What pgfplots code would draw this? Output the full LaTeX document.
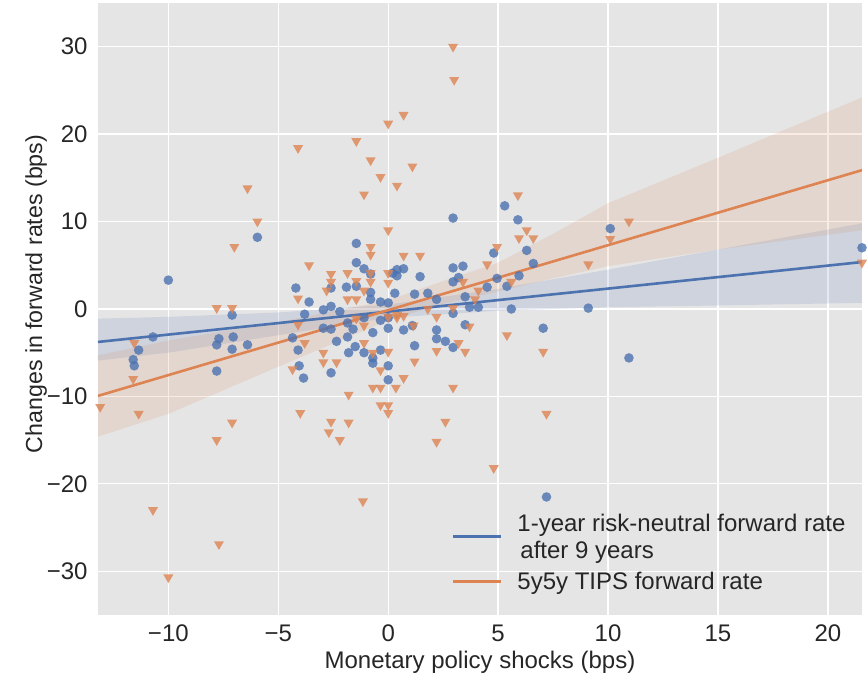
\documentclass[border=0pt]{standalone}
\usepackage{pgfplots}
\pgfplotsset{compat=1.18}
\usepgfplotslibrary{fillbetween}
\usepackage{fontspec}
\setmainfont{Liberation Sans}

\definecolor{sblue}{HTML}{4C72B0}
\definecolor{sorange}{HTML}{DD8452}
\definecolor{bggray}{HTML}{E5E5E5}
\definecolor{txt}{HTML}{262626}

% legend handle lowered to sit between the two text lines of its entry
\pgfplotsset{shiftedline/.style={legend image code/.code={%
  \draw[##1, line width=2.6pt] (0pt,-12.5pt) -- (48pt,-12.5pt);}}}
% legend handle with extra room above it, to open up the space before its row
\pgfplotsset{spacedline/.style={legend image code/.code={%
  \draw[##1, line width=2.6pt] (0pt,0pt) -- (48pt,0pt);
  \path[draw=none, fill=none] (0pt,0pt) rectangle (0pt,17pt);}}}

\begin{document}
\begin{tikzpicture}
\begin{axis}[
  name=ax,
  scale only axis,
  width=764pt, height=612pt,
  xmin=-13.2, xmax=21.55,
  ymin=-35, ymax=35,
  axis background/.style={fill=bggray},
  axis line style={draw=none},
  tick style={draw=none},
  grid=major,
  major grid style={white, line width=1.3pt},
  xtick={-10,-5,0,5,10,15,20},
  xticklabels={−10,−5,0,5,10,15,20},
  ytick={-30,-20,-10,0,10,20,30},
  yticklabels={−30,−20,−10,0,10,20,30},
  ticklabel style={font=\fontsize{24}{28}\selectfont, text=txt},
  xticklabel style={yshift=-6pt},
  yticklabel style={xshift=-7pt},
  xlabel={Monetary policy shocks (bps)},
  ylabel={Changes in forward rates (bps)},
  xlabel style={font=\fontsize{24}{28}\selectfont, text=txt, yshift=-3pt},
  ylabel style={font=\fontsize{23.2}{28}\selectfont, text=txt, yshift=-7pt, xshift=15pt},
  legend cell align=left,
  legend style={at={(axis cs:2.75,-23.0)}, anchor=north west, draw=none, fill=none,
    font=\fontsize{24}{28}\selectfont, text=txt, row sep=2pt, column sep=13pt,
    nodes={inner sep=2pt}},
  legend image code/.code={\draw[#1, line width=2.6pt] (0pt,0pt) -- (48pt,0pt);},
]

% 1-year risk-neutral forward rate after 9 years
\addplot[only marks, forget plot, mark=*, mark size=4.8pt, color=sblue,
  mark options={draw opacity=0, fill=sblue, fill opacity=0.8}] coordinates {
(-13.3,10.1) (-10.0,3.3) (-5.95,8.2) (-7.1,-0.7) (-4.2,2.4) (-3.8,-0.6)
(-3.6,0.8) (-2.95,-0.1) (-2.6,0.3) (-2.6,2.4) (-2.2,-0.3) (-1.9,2.5)
(-1.45,7.5) (-1.45,5.3) (-1.1,4.6) (-0.8,4.0) (-0.8,1.9) (-0.8,1.1)
(-0.35,0.8) (0.0,0.7) (0.2,4.1) (0.3,1.8) (0.4,4.5) (0.7,4.6)
(0.4,3.8) (1.45,3.7) (1.2,1.7) (-1.45,2.6)
(2.95,10.4) (5.3,11.8) (5.9,10.2) (6.3,6.7) (6.6,5.2) (4.8,6.4)
(4.95,3.5) (5.95,3.8) (5.4,2.6) (4.5,2.5) (2.95,4.7) (3.4,4.9)
(3.2,3.6) (2.95,3.1) (1.8,1.8) (2.2,1.1) (3.5,1.4) (3.7,0.2)
(4.1,0.2) (5.6,0.0) (2.95,-0.5) (10.1,9.2) (9.1,0.1) (7.05,-2.2)
(21.55,7.0) (10.95,-5.6) (7.2,-21.5) (2.2,-2.4) (2.2,-3.4) (2.6,-3.7)
(2.95,-4.4) (3.5,-1.8) (1.2,-4.2) (0.7,-2.4) (1.1,-1.9) (0.0,-2.2)
(0.0,-6.5) (0.0,-8.1) (-0.35,-4.7)
(-2.95,-2.2) (-2.6,-2.3) (-2.35,-3.7) (-1.85,-3.2) (-1.8,-5.0) (-1.5,-4.3)
(-1.1,-5.0) (-1.6,-2.3) (-0.7,-2.7) (-0.7,-5.6) (-0.7,-6.2) (-4.1,-4.7)
(-4.05,-6.5) (-3.85,-7.9) (-2.6,-7.3) (-4.35,-3.3) (-0.35,-1.3) (0.0,-1.0)
(-1.1,-1.0) (-1.85,-1.6)
(-10.7,-3.2) (-11.35,-4.7) (-11.6,-5.8) (-11.55,-6.5) (-7.7,-3.4) (-7.8,-4.1)
(-7.05,-3.2) (-7.1,-4.6) (-6.4,-4.1) (-7.8,-7.1)
};

% confidence band and fit, series 1
\addplot[name path=bu, draw=none, forget plot] coordinates {
(-13.2,-1.1) (-10,-0.9) (-5,-0.4) (0,0.5) (5,2.3) (10,4.5) (15,6.8) (21.55,9.8)};
\addplot[name path=bl, draw=none, forget plot] coordinates {
(-13.2,-5.9) (-10,-5.0) (-5,-3.0) (0,-1.0) (5,-0.2) (10,0.2) (15,0.4) (21.55,0.7)};
\addplot[fill=sblue, fill opacity=0.15, draw=none, forget plot] fill between[of=bu and bl];
\addplot[sblue, line width=2.6pt, shiftedline]
  coordinates {(-13.2,-3.77) (21.55,5.37)};
\addlegendentry{1-year risk-neutral forward rate}
\addlegendimage{empty legend}
\addlegendentry{\hspace{3pt}after 9 years}

% 5y5y TIPS forward rate
\addplot[only marks, forget plot, mark=triangle*, mark size=5.8pt, color=sorange,
  mark options={rotate=180, draw opacity=0, fill=sorange, fill opacity=0.8}] coordinates {
(0,21.2) (-4.1,18.4) (-1.45,19.2) (-0.8,17.0) (-0.35,15.1) (-1.1,13.1)
(0.4,14.1) (-6.4,13.8) (-5.95,10.0) (-7.0,7.1) (-3.6,5.0) (0,9.0)
(-0.8,7.1) (-0.8,6.2) (-2.6,4.0) (-2.6,3.1) (-1.85,4.1) (-1.45,3.2)
(-2.8,2.1) (-1.85,1.1) (-1.45,1.1) (-1.1,2.1) (-0.8,4.1) (-0.8,3.1)
(0,4.1) (0,3.0) (-4.1,1.2) (-7.8,0.1) (-7.1,0.1) (-4.1,-1.8)
(0.7,6.1) (1.45,6.1) (2.95,30.0) (3.0,26.2) (0.7,22.2) (1.1,16.3)
(5.9,13.0) (6.3,9.0) (5.95,8.1) (6.6,8.1) (4.95,7.1) (4.5,5.1)
(3.4,3.1) (4.1,2.1) (3.95,1.1) (5.6,3.1) (1.8,0.0) (2.95,0.1)
(10.95,10.0) (10.1,8.0) (9.1,5.1) (21.55,5.3) (5.4,-3.0) (7.05,-4.9)
(7.2,-12.0) (4.8,-18.2) (2.95,-9.0) (2.6,-12.9) (2.2,-15.2) (3.2,-3.9)
(3.5,-4.9) (2.2,-4.8) (2.2,-0.9) (1.2,-6.0) (0.7,-7.9) (0.35,-9.0)
(0,-4.9) (0,-11.0) (0,-11.9) (-0.35,-11.0) (1.15,-1.9) (3.7,-2.0)
(0.4,-0.7) (0.7,-0.8) (0,-0.9) (-0.35,-7.0) (-4.35,-6.9) (-2.95,-5.0)
(-2.95,-6.1) (-2.35,-6.1) (-1.1,-3.9) (-0.7,-5.0) (-0.7,-9.0) (-0.35,-9.0)
(-1.8,-9.8) (-4.0,-11.9) (-2.6,-12.9) (-1.8,-13.0) (-2.7,-14.1) (-2.2,-15.0)
(-3.8,-3.9) (-1.45,-1.1) (-1.1,-1.9) (0.4,-1.0) (-11.55,-3.9) (-11.6,-8.0)
(-11.35,-12.0) (-13.1,-11.2) (-10.7,-23.0) (-10.0,-30.7) (-7.7,-26.9) (-7.8,-15.0)
(-7.1,-13.0) (-1.15,-22.0)
};

% confidence band and fit, series 2
\addplot[name path=ou, draw=none, forget plot] coordinates {
(-13.2,-5.3) (-10,-3.6) (-5,-1.5) (0,1.0) (2.5,3.2) (5,5.3) (7.5,8.6) (10,12.1) (15,17.3) (21.55,24.2)};
\addplot[name path=ol, draw=none, forget plot] coordinates {
(-13.2,-14.6) (-10,-12.0) (-5,-6.6) (0,-1.3) (2.5,0.6) (5,2.0) (7.5,3.5) (10,4.9) (15,6.8) (21.55,9.0)};
\addplot[fill=sorange, fill opacity=0.15, draw=none, forget plot] fill between[of=ou and ol];
\addplot[sorange, line width=2.6pt, spacedline] coordinates {(-13.2,-9.94) (21.55,15.88)};
\addlegendentry{5y5y TIPS forward rate}

\end{axis}
\path ([xshift=-98pt,yshift=-62pt]ax.south west) rectangle ([xshift=5pt,yshift=3pt]ax.north east);
\end{tikzpicture}
\end{document}
